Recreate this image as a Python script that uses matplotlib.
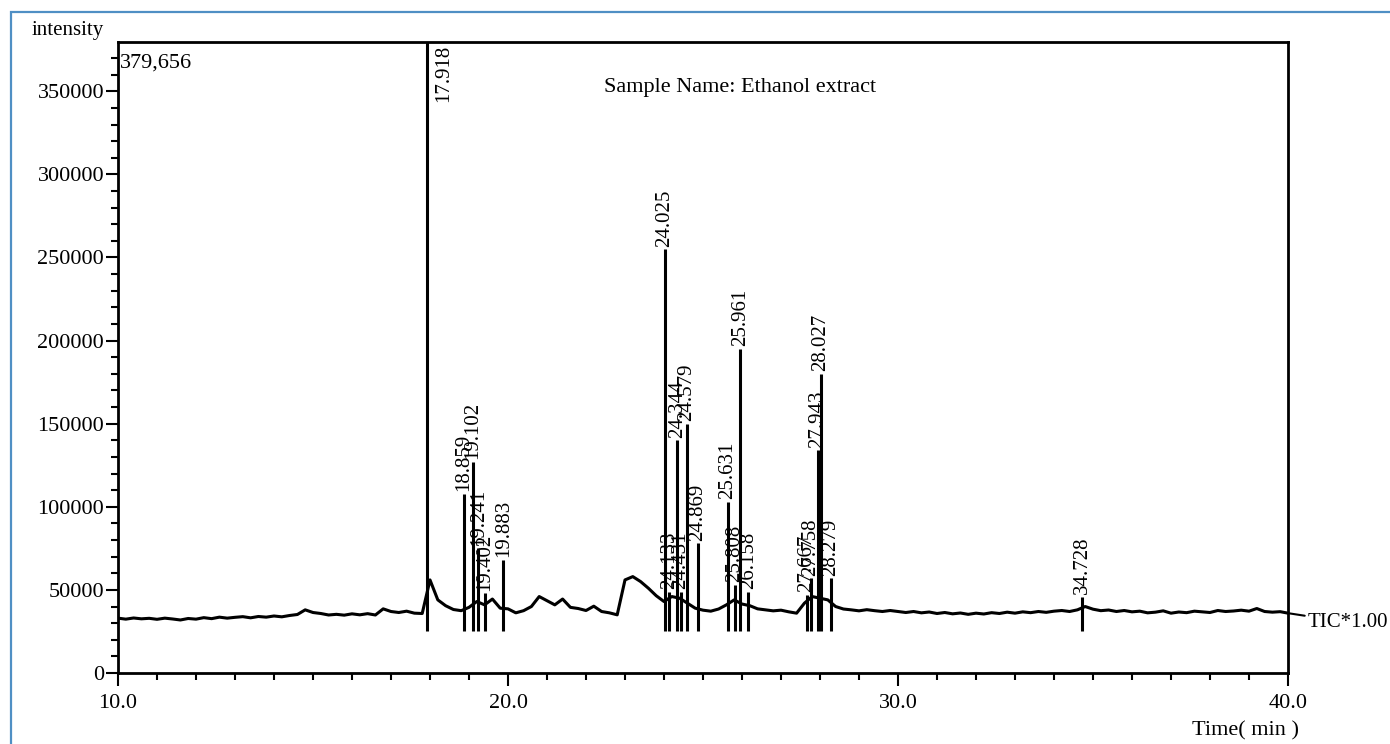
import numpy as np
import matplotlib
matplotlib.use("Agg")
import matplotlib.pyplot as plt
from matplotlib.ticker import MultipleLocator, FormatStrFormatter
from matplotlib.patches import Rectangle

plt.rcParams['font.family'] = ['Liberation Serif', 'DejaVu Serif']

# baseline trace, read every 0.2 min (intensity in thousands)
base_time = np.round(np.arange(10.0, 40.0001, 0.2), 1)
base_k = [
    33.0, 32.4, 33.1, 32.6, 32.9,   # 10
    32.3, 33.0, 32.5, 31.9, 32.8,   # 11
    32.4, 33.3, 32.7, 33.6, 33.0,   # 12
    33.5, 33.9, 33.2, 34.0, 33.6,   # 13
    34.3, 33.8, 34.6, 35.2, 38.0,   # 14
    36.4, 35.8, 34.9, 35.3, 34.8,   # 15
    35.6, 35.0, 35.7, 34.9, 38.6,   # 16
    37.0, 36.4, 37.2, 36.0, 35.8,   # 17
    56.0, 44.0, 40.5, 38.2, 37.5,   # 18
    39.5, 43.0, 41.0, 44.5, 39.0,   # 19
    38.6, 36.2, 37.5, 40.0, 46.0,   # 20
    43.5, 41.0, 44.5, 39.5, 38.8,   # 21
    37.6, 40.2, 37.0, 36.2, 35.0,   # 22
    56.0, 58.0, 55.0, 51.0, 46.5,   # 23
    43.0, 46.0, 45.0, 42.0, 39.0,   # 24
    37.8, 37.2, 38.5, 41.0, 44.0,   # 25
    41.5, 40.5, 38.6, 38.0, 37.4,   # 26
    37.8, 36.8, 36.0, 42.0, 46.0,   # 27
    45.0, 44.0, 40.0, 38.5, 38.0,   # 28
    37.4, 38.1, 37.5, 37.0, 37.6,   # 29
    37.0, 36.4, 37.0, 36.2, 36.7,   # 30
    35.8, 36.4, 35.6, 36.1, 35.3,   # 31
    36.0, 35.5, 36.3, 35.8, 36.6,   # 32
    36.0, 36.8, 36.3, 37.0, 36.5,   # 33
    37.2, 37.6, 37.0, 38.0, 40.0,   # 34
    38.4, 37.5, 37.9, 37.0, 37.6,   # 35
    36.8, 37.2, 36.2, 36.6, 37.4,   # 36
    36.0, 36.7, 36.3, 37.2, 36.8,   # 37
    36.4, 37.6, 37.0, 37.3, 37.8,   # 38
    37.2, 38.8, 37.0, 36.6, 36.9,   # 39
    36.0,                           # 40
]
base_int = np.array(base_k) * 1000

# labelled peaks
peak_rt = [17.918, 18.859, 19.102, 19.241, 19.402, 19.883,
           24.025, 24.133, 24.344, 24.431, 24.579, 24.869,
           25.631, 25.808, 25.961, 26.158,
           27.667, 27.758, 27.943, 28.027, 28.279, 34.728]
peak_height = [379656, 108000, 127000, 75000, 48000, 68000,
               255000, 49000, 140000, 49000, 150000, 78000,
               103000, 53000, 195000, 49000,
               47000, 57000, 134000, 180000, 57000, 46000]
peak_label = ["17.918", "18.859", "19.102", "19.241", "19.402", "19.883",
              "24.025", "24.133", "24.344", "24.431", "24.579", "24.869",
              "25.631", "25.808", "25.961", "26.158",
              "27.667", "27.758", "27.943", "28.027", "28.279", "34.728"]

fig = plt.figure(figsize=(13.9, 7.44), dpi=100)
ax = fig.add_axes([118/1390, 71/744, 1170/1390, 631/744])

ax.plot(base_time, base_int, color='black', lw=2.2)
ax.vlines(peak_rt, 25000, peak_height, color='black', lw=2.2)

for rt, h, lab in zip(peak_rt, peak_height, peak_label):
    if h > 370000:
        ax.text(rt + 0.42, 378000, lab, rotation=90, ha='center', va='top',
                fontsize=15)
    else:
        ax.text(rt, h + 1500, lab, rotation=90, ha='center', va='bottom',
                fontsize=15)

ax.set_xlim(10, 40)
ax.set_ylim(0, 379656)
ax.xaxis.set_major_locator(MultipleLocator(10))
ax.xaxis.set_minor_locator(MultipleLocator(1))
ax.xaxis.set_major_formatter(FormatStrFormatter('%.1f'))
ax.yaxis.set_major_locator(MultipleLocator(50000))
ax.yaxis.set_minor_locator(MultipleLocator(10000))
ax.tick_params(which='major', direction='out', length=9, width=1.5,
               labelsize=16)
ax.tick_params(which='minor', direction='out', length=5, width=1.5)
ax.tick_params(axis='y', pad=1)
ax.tick_params(axis='x', pad=6)
for s in ax.spines.values():
    s.set_linewidth(2.0)

ax.text(10.05, 367000, "379,656", fontsize=16, ha='left', va='center')
ax.text(25.95, 352000, "Sample Name: Ethanol extract", fontsize=16,
        ha='center', va='center')
ax.annotate("TIC*1.00", xy=(40, 36000), xytext=(40.5, 30500),
            fontsize=15, va='center', ha='left', annotation_clip=False,
            arrowprops=dict(arrowstyle='-', color='black', lw=1.5,
                            shrinkA=0, shrinkB=0))

fig.text(32/1390, 1 - 30/744, "intensity", fontsize=15, ha='left', va='center')
fig.text(1245/1390, 1 - 731/744, "Time( min )", fontsize=16, ha='center',
         va='center')

# thin blue frame around the picture
fig.patches.append(Rectangle((11/1390, -0.5), 2, 0.5 + (1 - 12/744),
                             transform=fig.transFigure, fill=False,
                             edgecolor='#4f8fc4', lw=1.6))

fig.savefig('out.png', dpi=100)
